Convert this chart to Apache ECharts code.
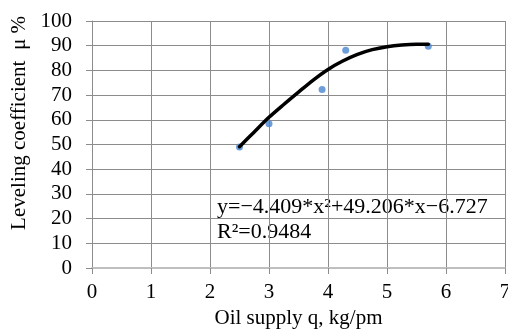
<!DOCTYPE html>
<html lang="en">
<head>
    <meta charset="UTF-8">
    <title>Leveling coefficient</title>
    <style>
        html, body { margin: 0; padding: 0; background: #fff; }
        #main { width: 508px; height: 335px; }
    </style>
</head>
<body>
<div id="main"></div>
<script src="https://cdn.jsdelivr.net/npm/echarts@6/dist/echarts.min.js"></script>
<script>
    // measured points
    const oilSupply = [2.5, 3.0, 3.9, 4.3, 5.7];
    const leveling = [49, 58.4, 72.3, 88.2, 89.8];

    // trend curve as drawn on the picture
    const trendX = [2.5, 2.75, 3.0, 3.25, 3.5, 3.75, 4.0, 4.25, 4.5, 4.75, 5.0, 5.25, 5.5, 5.7];
    const trendY = [49.1, 55.1, 61.0, 66.2, 71.2, 76.1, 80.4, 83.8, 86.5, 88.4, 89.6, 90.3, 90.6, 90.6];

    const xTicks = [0, 7, 1];
    const yTicks = [0, 100, 10];

    const eqLine = 'y=\u22124.409*x\u00b2+49.206*x\u22126.727';
    const r2Line = 'R\u00b2=0.9484';

    const font = '"Liberation Serif", "Times New Roman", serif';
    const myChart = echarts.init(document.getElementById('main'));

    myChart.setOption({
        animation: false,
        backgroundColor: '#fff',
        grid: { left: 92, right: 3, top: 21, bottom: 67, outerBoundsMode: 'none', containLabel: false },
        xAxis: {
            type: 'value',
            min: xTicks[0], max: xTicks[1], interval: xTicks[2],
            name: 'Oil supply q, kg/pm',
            nameLocation: 'middle',
            nameGap: 39,
            nameTextStyle: { fontFamily: font, fontSize: 21, color: '#000' },
            axisLine: { lineStyle: { color: '#bfbfbf', width: 2 } },
            axisTick: { show: true, length: 6, lineStyle: { color: '#8c8c8c' } },
            axisLabel: { fontFamily: font, fontSize: 21, color: '#000', margin: 14, hideOverlap: false },
            splitLine: { show: true, lineStyle: { color: '#8c8c8c', width: 1 } }
        },
        yAxis: {
            type: 'value',
            min: yTicks[0], max: yTicks[1], interval: yTicks[2],
            name: 'Leveling coefficient  \u03bc %',
            nameLocation: 'middle',
            nameGap: 60,
            nameTextStyle: { fontFamily: font, fontSize: 21, color: '#000', padding: [0, 0, 0, 43] },
            axisLine: { show: true, lineStyle: { color: '#8c8c8c', width: 1 } },
            axisTick: { show: true, length: 6, lineStyle: { color: '#8c8c8c' } },
            axisLabel: { fontFamily: font, fontSize: 21, color: '#000', margin: 20 },
            splitLine: { show: true, lineStyle: { color: '#8c8c8c', width: 1 } }
        },
        series: [
            {
                type: 'scatter',
                data: oilSupply.map((x, i) => [x, leveling[i]]),
                symbolSize: 7,
                itemStyle: { color: '#4a86d0' },
                z: 2
            },
            {
                type: 'line',
                data: trendX.map((x, i) => [x, trendY[i]]),
                smooth: 0.3,
                showSymbol: false,
                lineStyle: { color: '#000', width: 3.5, cap: 'round' },
                z: 3
            }
        ],
        graphic: [
            {
                type: 'text',
                left: 217,
                top: 195,
                style: {
                    text: eqLine + '\n' + r2Line,
                    font: '22px ' + font,
                    lineHeight: 25,
                    fill: '#000'
                }
            }
        ]
    });
</script>
</body>
</html>
